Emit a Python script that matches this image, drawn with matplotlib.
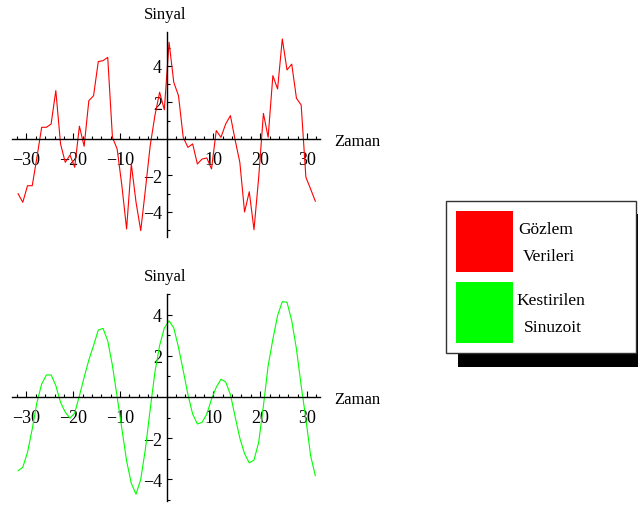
import matplotlib.pyplot as plt
import numpy as np
from matplotlib.patches import Rectangle
from matplotlib.ticker import FixedLocator

plt.rcParams['font.family'] = ['Liberation Serif', 'DejaVu Serif']

# zaman ekseni (64 ornek)
zaman = np.linspace(-31.8, 31.8, 64)

gozlem = [-3.0, -3.47, -2.56, -2.56, -1.0, 0.64, 0.64, 0.82, 2.65, -0.27,
          -1.28, -0.88, -1.55, 0.7, -0.4, 2.1, 2.37, 4.24, 4.29, 4.47,
          0.09, -0.55, -2.56, -4.93, -1.37, -3.47, -5.02, -2.74, -0.37, 1.28,
          2.56, 1.6, 5.3, 3.1, 2.37, 0.09, -0.46, -0.27, -1.37, -1.1,
          -1.04, -1.64, 0.46, 0.09, 0.82, 1.28, -0.05, -1.28, -4.0, -2.89,
          -4.97, -2.1, 1.4, 0.09, 3.47, 2.74, 5.48, 3.78, 4.1, 2.23,
          1.86, -2.1, -2.74, -3.41]

sinuzoit = [-3.58, -3.41, -2.69, -1.55, -0.26, 0.63, 1.07, 1.07, 0.55, -0.26,
            -0.74, -1.03, -0.78, 0.06, 0.95, 1.8, 2.5, 3.25, 3.33, 2.73,
            1.52, 0.0, -1.55, -3.1, -4.2, -4.72, -4.0, -2.5, -0.6, 1.2,
            2.5, 3.35, 3.7, 3.35, 2.41, 1.28, 0.12, -0.83, -1.31, -1.23,
            -0.83, -0.1, 0.47, 0.86, 0.73, 0.12, -0.95, -2.0, -2.75, -3.2,
            -3.06, -2.2, -0.42, 1.52, 2.8, 3.95, 4.63, 4.6, 3.7, 2.33,
            0.55, -1.07, -2.85, -3.82]

x_major = [-30, -20, -10, 10, 20, 30]
x_minor = list(range(-32, 33, 2))
y_major = [-4, -2, 2, 4]
y_minor = list(range(-5, 6))

W, H = 638, 506
fig = plt.figure(figsize=(W / 100, H / 100), dpi=100)


def px_axes(x0, y0, x1, y1):
    return fig.add_axes([x0 / W, 1 - y1 / H, (x1 - x0) / W, (y1 - y0) / H])


def ciz(ax, y, color, ylim):
    ax.plot(zaman, y, color=color, lw=0.8)
    ax.set_xlim(-33.1, 32.8)
    ax.set_ylim(*ylim)
    ax.patch.set_alpha(0)
    for s in ['top', 'right']:
        ax.spines[s].set_visible(False)
    ax.spines['left'].set_position(('data', 0))
    ax.spines['bottom'].set_position(('data', 0))
    for s in ['left', 'bottom']:
        ax.spines[s].set_linewidth(1.0)
    ax.xaxis.set_major_locator(FixedLocator(x_major))
    ax.xaxis.set_minor_locator(FixedLocator(x_minor))
    ax.yaxis.set_major_locator(FixedLocator(y_major))
    ax.yaxis.set_minor_locator(FixedLocator(y_minor))
    ax.tick_params(axis='x', which='major', direction='in', length=4, width=0.8,
                   pad=9, labelsize=13)
    ax.tick_params(axis='x', which='minor', direction='in', length=2.5, width=0.8)
    ax.tick_params(axis='y', which='major', direction='in', length=3.5, width=0.8,
                   pad=3.5, labelsize=13)
    ax.tick_params(axis='y', which='minor', direction='in', length=2, width=0.8)
    ax.annotate('Sinyal', xy=(0, 1), xycoords=('data', 'axes fraction'),
                xytext=(-1, 13), textcoords='offset points',
                ha='center', va='center', fontsize=12)
    ax.annotate('Zaman', xy=(1, 0), xycoords=('axes fraction', 'data'),
                xytext=(10, -1.5), textcoords='offset points',
                ha='left', va='center', fontsize=12)


ust = px_axes(12, 33, 320, 238)
ciz(ust, gozlem, '#ff0000', (-5.37, 5.86))

alt = px_axes(12, 295, 320, 502)
ciz(alt, sinuzoit, '#00ff00', (-5.05, 5.0))


# lejant kutusu (golgeli)
def px_rect(x0, y0, x1, y1, **kw):
    fig.patches.append(Rectangle((x0 / W, 1 - y1 / H), (x1 - x0) / W, (y1 - y0) / H,
                                 transform=fig.transFigure, **kw))


px_rect(458, 215, 650, 368, facecolor='black', edgecolor='none')
px_rect(446, 202, 636, 354, facecolor='white', edgecolor='#333333', linewidth=1.0)
px_rect(456, 212, 513, 273, facecolor='#ff0000', edgecolor='none')
px_rect(456, 283, 513, 344, facecolor='#00ff00', edgecolor='none')

for metin, x, y in [('Gözlem', 546, 230), ('Verileri', 548.5, 257),
                    ('Kestirilen', 551, 301), ('Sinuzoit', 553, 328)]:
    fig.text(x / W, 1 - y / H, metin, ha='center', va='center', fontsize=12.5)

fig.savefig('out.png', dpi=100)
